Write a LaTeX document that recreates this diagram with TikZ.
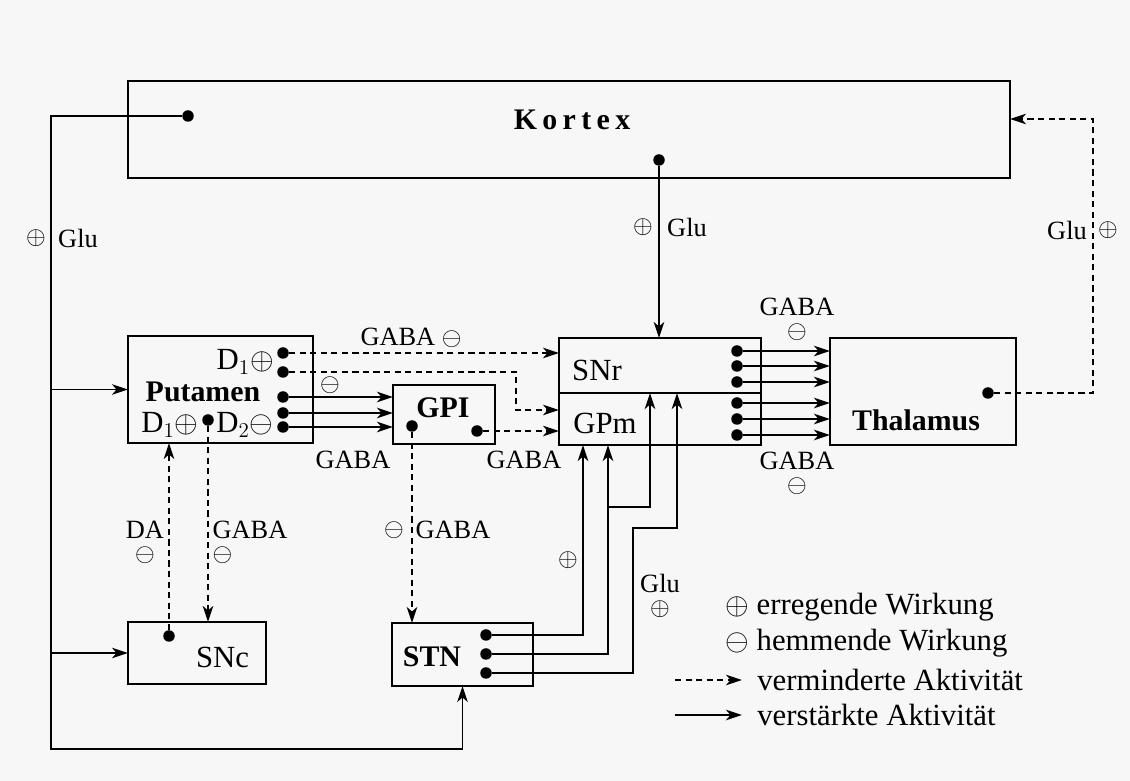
\documentclass[tikz,border=0pt]{standalone}
\usepackage{fontspec}
\setmainfont{Liberation Serif}
\usepackage{tikz}
\usetikzlibrary{arrows.meta,positioning,calc}

\begin{document}
\begin{tikzpicture}[
          every node/.style={font=\fontsize{15}{17}\selectfont,inner sep=0pt},
          box/.style={draw,line width=1.6pt,outer sep=0pt},
          dot/.style={circle,fill,inner sep=0pt,minimum size=2.3mm},
          nm/.style={font=\fontsize{17.5}{20}\selectfont},
          bnm/.style={font=\fontsize{17}{20}\selectfont\bfseries},
          lgd/.style={font=\fontsize{17.5}{20}\selectfont,anchor=west},
          arr/.style={-{Stealth[length=3.2mm,width=2.1mm,inset=0.9mm]},line width=0.75pt},
          tarr/.style={-{Stealth[length=3.2mm,width=2.1mm,inset=0.9mm]},line width=1.4pt},
          darr/.style={-{Stealth[length=3.2mm,width=2.1mm,inset=0.9mm]},line width=0.9pt,
                       dash pattern=on 3.5pt off 2.5pt},
      ]
        \useasboundingbox (0,0) rectangle (22.6,15.62);
        \fill[black!3] (0,0) rectangle (22.6,15.62);

        % boxes
        \node[box,minimum width=17.64cm,minimum height=1.94cm] (kor) at (11.38,13.03) {};
        \node[box,minimum width=3.7cm,minimum height=2.14cm] (put) at (4.41,7.83) {};
        \node[box,minimum width=2.04cm,minimum height=1.18cm] (gpi) at (8.88,7.33) {};
        \node[box,minimum width=4.04cm,minimum height=1.1cm] (snr) at (13.2,8.31) {};
        \node[box,minimum width=4.04cm,minimum height=1.04cm,below=0pt of snr] (gpm) {};
        \node[box,minimum width=3.72cm,minimum height=2.14cm] (thal) at (18.46,7.79) {};
        \node[box,minimum width=2.76cm,minimum height=1.24cm] (snc) at (3.94,2.56) {};
        \node[box,minimum width=2.82cm,minimum height=1.26cm] (stn) at (9.25,2.53) {};

        \node[bnm] (kortxt) at (11.44,13.22) {\addfontfeature{LetterSpace=18}Kortex};
        \node[bnm] (puttxt) at (4.06,7.78) {Putamen};
        \node[nm,anchor=east] (d1top) at (5.48,8.38) {D$_1\oplus$};
        \node[nm] (d1bot) at (3.4,7.12) {D$_1\oplus$};
        \node[nm] (d2bot) at (4.9,7.12) {D$_2\ominus$};
        \node[bnm] (gpitxt) at (8.86,7.46) {GPI};
        \node[nm] (snrtxt) at (11.94,8.22) {SNr};
        \node[nm] (gpmtxt) at (12.1,7.16) {GPm};
        \node[bnm] (thaltxt) at (18.32,7.22) {Thalamus};
        \node[nm] (snctxt) at (4.45,2.48) {SNc};
        \node[bnm] (stntxt) at (8.64,2.48) {STN};

        % dots
        \node[dot] (kd1) at (3.76,13.3) {};
        \node[dot] (kd2) at (13.18,12.42) {};
        \foreach \y [count=\i] in {8.56,8.18,7.68,7.36,7.08}
          \node[dot] (p\i) at (5.66,\y) {};
        \node[dot] (pd) at (4.16,7.22) {};
        \node[dot] (gd1) at (8.24,7.1) {};
        \node[dot] (gd2) at (9.54,7.0) {};
        \node[dot] (thd) at (19.76,7.76) {};
        \node[dot] (scd) at (3.38,2.9) {};
        \foreach \y [count=\i] in {2.92,2.54,2.16}
          \node[dot] (t\i) at (9.72,\y) {};

        % Kortex
        \coordinate (lb) at (1.02,0.64);
        \draw[arr] (kd1) -| (lb) -| (stn.south);
        \draw[arr] (lb |- put.west) -- (put.west);
        \draw[arr] (lb |- snc.west) -- (snc.west);
        \draw[arr] (kd2) -- (kd2 |- snr.north);
        \coordinate (rk) at (21.86,13.24);
        \draw[darr] (thd) -| (rk) -- (rk -| kor.east);

        % Putamen, GPI
        \draw[darr] (p1) -- (p1 -| snr.west);
        \coordinate (pk) at (10.32,7.42);
        \draw[darr] (p2) -| (pk) -- (pk -| gpm.west);
        \foreach \i in {3,4,5}
          \draw[tarr] (p\i) -- (p\i -| gpi.west);
        \draw[darr] (gd2) -- (gd2 -| gpm.west);
        \draw[darr] (gd1) -- (gd1 |- stn.north);
        \draw[darr] (pd) -- (pd |- snc.north);
        \draw[darr] (scd) -- (scd |- put.south);

        % SNr/GPm -> Thalamus
        \foreach \y [count=\i] in {8.6,8.3,7.98,7.56,7.24,6.92}{
          \node[dot] (s\i) at (14.74,\y) {};
          \draw[tarr] (s\i) -- (s\i -| thal.west);
        }

        % STN
        \path (gpm.south west) ++(0.48,0) coordinate (g1) ++(0.5,0) coordinate (g2);
        \path (snr.south west) ++(1.82,0) coordinate (g3) ++(0.54,0) coordinate (g4);
        \coordinate (j1) at (12.16,5.48);
        \coordinate (j2) at (12.66,5.06);
        \draw[tarr] (t1) -| (g1);
        \draw[tarr] (t2) -| (g2);
        \draw[tarr] (j1) -| (g3);
        \draw[tarr] (t3) -| (j2) -| (g4);

        % labels
        \node (l1p) at (0.72,10.86) {$\oplus$};
        \node (l1g) at (1.56,10.86) {Glu};
        \node (l2p) at (12.86,11.08) {$\oplus$};
        \node (l2g) at (13.74,11.08) {Glu};
        \node (l3g) at (21.34,11.02) {Glu};
        \node (l3p) at (22.16,11.02) {$\oplus$};
        \node (l4) at (8.22,8.86) {GABA $\ominus$};
        \node (l5) at (6.6,7.92) {$\ominus$};
        \node (l6) at (7.06,6.42) {GABA};
        \node (l7) at (10.48,6.42) {GABA};
        \node[align=center] (l8) at (15.94,9.24) {GABA\\[-4pt]$\ominus$};
        \node[align=center] (l9) at (15.94,6.15) {GABA\\[-4pt]$\ominus$};
        \node[align=center] (l10) at (2.9,4.77) {DA\\[-4pt]$\ominus$};
        \node[align=left] (l11) at (5.0,4.77) {GABA\\[-4pt]$\ominus$};
        \node (l12m) at (7.88,5.02) {$\ominus$};
        \node (l12g) at (9.06,5.02) {GABA};
        \node (l13) at (11.36,4.42) {$\oplus$};
        \node[align=center] (l14) at (13.2,3.7) {Glu\\[-4pt]$\oplus$};

        % legend
        \node[lgd] (lg1) at (14.5,3.48) {$\oplus$ erregende Wirkung};
        \node[lgd] (lg2) at (14.5,2.76) {$\ominus$ hemmende Wirkung};
        \node[lgd] (lg3) at (15.14,2.02) {verminderte Aktivität};
        \node[lgd] (lg4) at (15.14,1.32) {verstärkte Aktivität};
        \coordinate (la3) at (13.5,2.02);
        \coordinate (la4) at (13.5,1.32);
        \draw[darr] (la3) -- ([xshift=-0.3cm]lg3.west);
        \draw[tarr] (la4) -- ([xshift=-0.3cm]lg4.west);
      \end{tikzpicture}
\end{document}
